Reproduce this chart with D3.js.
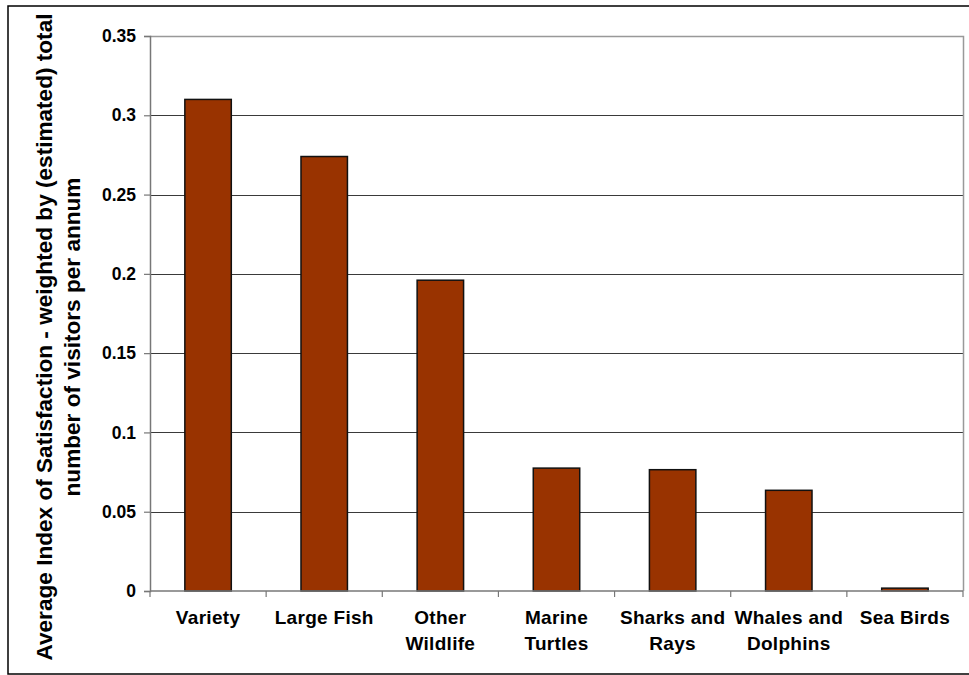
<!DOCTYPE html>
<html>
<head>
<meta charset="utf-8">
<script src="https://cdn.jsdelivr.net/npm/d3@7"></script>
<style>
  html, body { margin: 0; padding: 0; background: #fff; }
  svg { display: block; font-family: "Liberation Sans", Arial, sans-serif; }
</style>
</head>
<body>
<svg id="chart" width="969" height="675"></svg>
<script>
// ---- data ----
const categories = ["Variety", "Large Fish", "Other Wildlife", "Marine Turtles", "Sharks and Rays", "Whales and Dolphins", "Sea Birds"];
const categoryLines = [["Variety"], ["Large Fish"], ["Other", "Wildlife"], ["Marine", "Turtles"], ["Sharks and", "Rays"], ["Whales and", "Dolphins"], ["Sea Birds"]];
const values = [0.310, 0.274, 0.196, 0.0775, 0.0765, 0.0635, 0.0018];
const yTicks = [0, 0.05, 0.1, 0.15, 0.2, 0.25, 0.3, 0.35];
const yTickLabels = ["0", "0.05", "0.1", "0.15", "0.2", "0.25", "0.3", "0.35"];
const yTitleLines = ["Average Index of Satisfaction - weighted by (estimated) total", "number of visitors per annum"];

// ---- layout ----
const svg = d3.select("#chart");
const plot = { left: 150, right: 963, top: 36, bottom: 591 };

const x = d3.scaleBand().domain(categories).range([plot.left, plot.right]).paddingInner(0.6).paddingOuter(0.3);
const xTickScale = d3.scaleBand().domain(categories).range([plot.left, plot.right]);
const y = d3.scaleLinear().domain([0, 0.35]).range([plot.bottom, plot.top]);

// outer border
svg.append("rect")
  .attr("x", 8).attr("y", 6).attr("width", 975).attr("height", 668)
  .attr("fill", "none").attr("stroke", "#000").attr("stroke-width", 1.5);

// gridlines
svg.append("g").selectAll("line").data(yTicks.filter(d => d > 0 && d < 0.35)).join("line")
  .attr("x1", plot.left).attr("x2", plot.right)
  .attr("y1", d => Math.round(y(d)) + 0.5).attr("y2", d => Math.round(y(d)) + 0.5)
  .attr("stroke", "#3a3a3a").attr("stroke-width", 1);

// plot frame top & right
svg.append("path")
  .attr("d", `M${plot.left},${plot.top + 0.5}H${plot.right + 0.5}V${plot.bottom}`)
  .attr("fill", "none").attr("stroke", "#999").attr("stroke-width", 1.5);

// bars
svg.append("g").selectAll("rect").data(values).join("rect")
  .attr("x", (d, i) => x(categories[i]))
  .attr("width", x.bandwidth())
  .attr("y", d => y(d))
  .attr("height", d => y(0) - y(d))
  .attr("fill", "#993300")
  .attr("stroke", "#111").attr("stroke-width", 1.5);

// y axis
const yAxis = d3.axisLeft(y).tickValues(yTicks).tickFormat((d, i) => yTickLabels[i]).tickSize(6).tickPadding(8);
const gy = svg.append("g").attr("transform", `translate(${plot.left},0)`).call(yAxis);
gy.select(".domain").attr("stroke", "#777").attr("stroke-width", 1.5);
gy.selectAll(".tick line").attr("stroke", "#777").attr("stroke-width", 1.2);
gy.selectAll(".tick text")
  .attr("font-family", "Liberation Sans, Arial, sans-serif")
  .attr("font-size", 17.5).attr("font-weight", "bold").attr("fill", "#000");

// x axis
const gx = svg.append("g").attr("transform", `translate(0,${plot.bottom})`);
gx.append("line").attr("x1", plot.left).attr("x2", plot.right)
  .attr("y1", 0).attr("y2", 0).attr("stroke", "#777").attr("stroke-width", 1.5);
const tickPos = categories.map(c => xTickScale(c)).concat([plot.right]);
gx.selectAll("line.tk").data(tickPos).join("line").attr("class", "tk")
  .attr("x1", d => d).attr("x2", d => d).attr("y1", 0).attr("y2", 6)
  .attr("stroke", "#777").attr("stroke-width", 1.2);

const labels = gx.selectAll("text.xl").data(categories).join("text").attr("class", "xl")
  .attr("text-anchor", "middle")
  .attr("font-size", 19).attr("font-weight", "bold").attr("fill", "#000")
  .attr("letter-spacing", 0.3);
labels.each(function(c, i) {
  const t = d3.select(this);
  const cx = xTickScale(c) + xTickScale.bandwidth() / 2;
  categoryLines[i].forEach((ln, j) => {
    t.append("tspan").attr("x", cx).attr("y", 33 + j * 26).text(ln);
  });
});

// y title
const yTitle = svg.append("g");
yTitleLines.forEach((ln, j) => {
  yTitle.append("text")
    .attr("transform", `translate(${52 + j * 28},337) rotate(-90)`)
    .attr("text-anchor", "middle")
    .attr("font-size", 22.6).attr("font-weight", "bold").attr("fill", "#000")
    .text(ln);
});
</script>
</body>
</html>
